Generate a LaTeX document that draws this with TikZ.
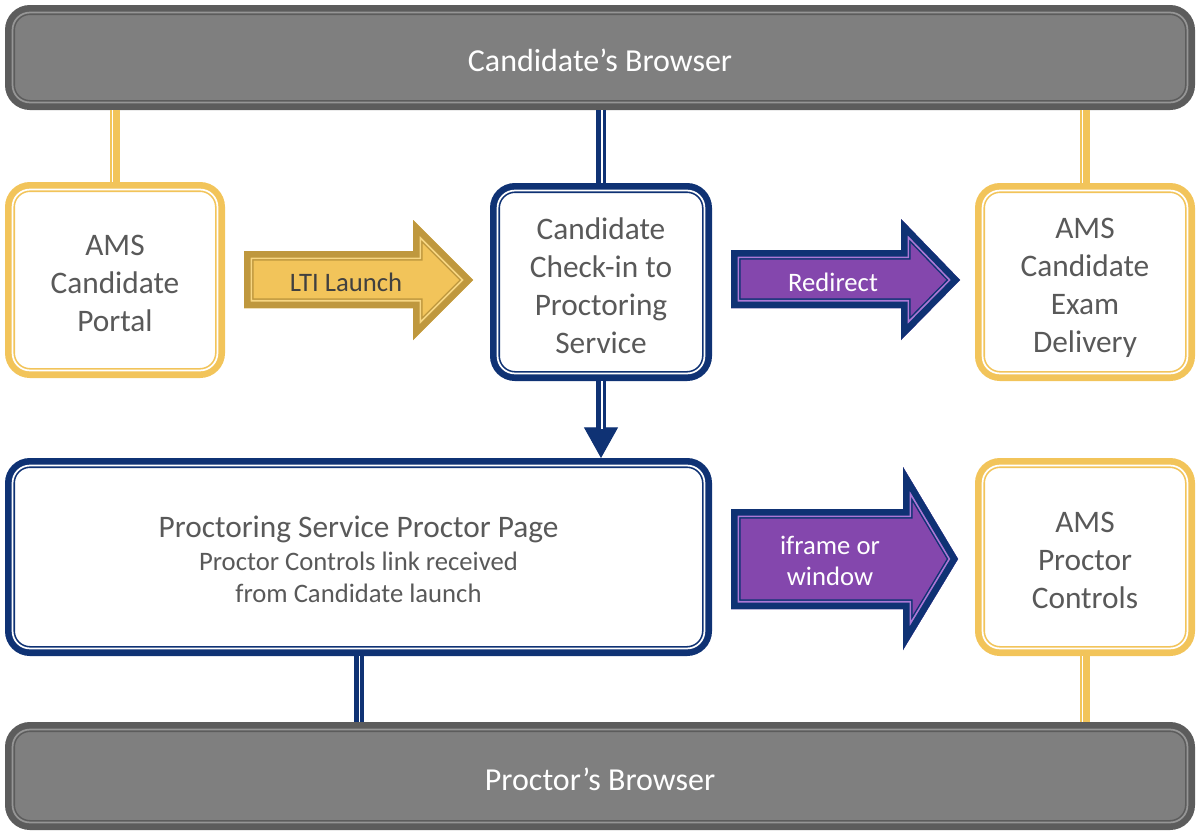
\documentclass[tikz,border=0pt]{standalone}
\usepackage{fontspec}
\setmainfont{Carlito}
\usetikzlibrary{arrows.meta}
\definecolor{amsgold}{RGB}{242,196,90}
\definecolor{darkgold}{RGB}{191,152,62}
\definecolor{lightgold}{RGB}{247,214,130}
\definecolor{psnavy}{RGB}{15,50,116}
\definecolor{pspurple}{RGB}{132,71,173}
\definecolor{lilac}{RGB}{172,120,214}
\definecolor{barfill}{RGB}{127,127,127}
\definecolor{bardark}{RGB}{92,92,92}
\definecolor{barlite}{RGB}{150,150,150}
\definecolor{txtgray}{RGB}{89,89,89}
\definecolor{lbltext}{RGB}{64,64,64}
% first line strut
\newcommand{\lift}[1]{\rule{0pt}{#1}}
% block arrow: path, fill, border, gap
\newcommand{\blockarrow}[4]{%
  \fill[#2] #1;
  \begin{scope}
    \clip #1;
    \draw[#3, line width=14.5pt, line join=miter] #1;
    \draw[#4, line width=12.3pt, line join=miter] #1;
    \draw[#3, line width=9.75pt, line join=miter] #1;
  \end{scope}}
\tikzset{
  box/.style={rectangle, rounded corners=15pt, line width=7.5pt, inner sep=0pt,
    fill=white, align=center, text=txtgray, font=\fontsize{23.5}{28.5}\selectfont,
    text depth=0pt},
  goldbox/.style={box, draw=amsgold},
  navybox/.style={box, draw=psnavy},
  bar/.style={box, draw=bardark, fill=barfill, text=white, font=\fontsize{24}{28}\selectfont,
    execute at begin node={\lift{21.5pt}}},
  goldlink/.style={draw=amsgold, line width=7.5pt,
    postaction={draw=white, line width=1.1pt, transform canvas={xshift=-1.9pt}}},
  navylink/.style={draw=psnavy, line width=7.5pt,
    postaction={draw=white, line width=1.1pt, transform canvas={xshift=0.8pt}}},
  arrowtext/.style={align=center, font=\fontsize{20}{23}\selectfont}
}
\begin{document}
\begin{tikzpicture}[x=0.75pt,y=0.75pt,yscale=-1,xscale=1]
\useasboundingbox (0,0) rectangle (1197,832);
%Browsers
\node[bar, minimum width=885pt, minimum height=71.25pt] (topbar) at (600,57.5) {Candidate’s Browser};
\node[bar, minimum width=885pt, minimum height=73.5pt] (botbar) at (600,776) {Proctor’s Browser};
%Boxes
\node[goldbox, minimum width=157.5pt, minimum height=139.5pt] (portal) at (115,280) {\lift{19.6pt}AMS\\Candidate\\Portal};
\node[navybox, minimum width=159pt, minimum height=141pt] (checkin) at (601,282) {\lift{22pt}Candidate\\Check-in to\\Proctoring\\Service};
\node[goldbox, minimum width=157.5pt, minimum height=141pt] (exam) at (1085,282) {\lift{19.6pt}AMS\\Candidate\\Exam\\Delivery};
\node[navybox, minimum width=522.75pt, minimum height=141pt] (page) at (358.5,557) {\lift{19.6pt}Proctoring Service Proctor Page\\[-3.25pt]
  \fontsize{20}{23}\selectfont Proctor Controls link received\\[-4.5pt]\fontsize{20}{23}\selectfont from Candidate launch};
\node[goldbox, minimum width=157.5pt, minimum height=141pt] (controls) at (1085,557) {\lift{19.6pt}AMS\\Proctor\\Controls};
%Inner lines
\foreach \n/\g in {topbar/barlite,botbar/barlite,portal/white,checkin/white,exam/white,page/white,controls/white}
  \draw[\g, line width=1.3pt, rounded corners=13pt] ([shift={(7.55,7.55)}]\n.north west) rectangle ([shift={(-7.55,-7.55)}]\n.south east);
%Links
\draw[goldlink] (topbar.south -| portal.north) -- (portal.north);
\draw[navylink] (topbar.south -| checkin.north) -- (checkin.north);
\draw[goldlink] (topbar.south -| exam.north) -- (exam.north);
\draw[navylink] (page.south) -- (page.south |- botbar.north);
\draw[goldlink] (controls.south) -- (controls.south |- botbar.north);
\draw[-{Triangle[length=23pt,width=25.5pt]}, psnavy, line width=0.8pt] (checkin.south) -- (checkin.south |- page.north);
\draw[navylink, shorten >=22pt] (checkin.south) -- (checkin.south |- page.north);
%Block arrows
\blockarrow{(244,251) -- (413,251) -- (413,220) -- (473,280) -- (413,340) -- (413,308) -- (244,308) -- cycle}{amsgold}{darkgold}{lightgold}
\node[arrowtext, text=lbltext] (lti) at (346,282) {LTI Launch};
\blockarrow{(731,250) -- (901,250) -- (901,219) -- (960,280) -- (901,340) -- (901,308) -- (731,308) -- cycle}{pspurple}{psnavy}{lilac}
\node[arrowtext, text=white] (redirect) at (833,282) {Redirect};
\blockarrow{(731,509) -- (903,509) -- (903,467) -- (958,559) -- (903,650) -- (903,609) -- (731,609) -- cycle}{pspurple}{psnavy}{lilac}
\node[arrowtext, text=white] (iframe) at (830,561) {iframe or\\window};
\end{tikzpicture}
\end{document}
